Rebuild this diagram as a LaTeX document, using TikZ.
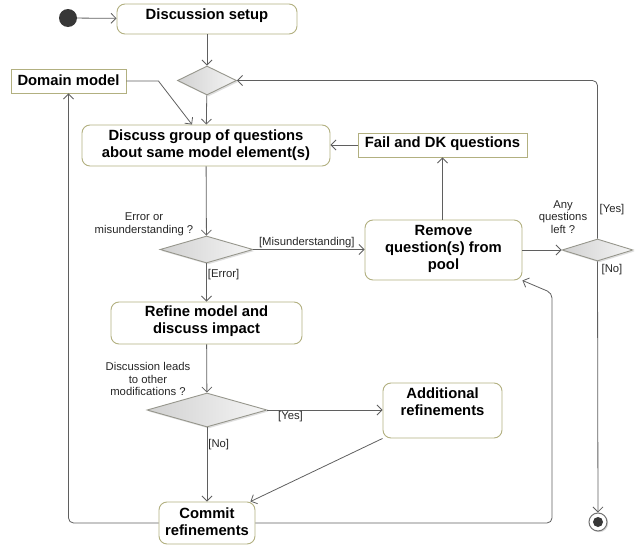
\documentclass[tikz,border=0pt]{standalone}
\usepackage{fontspec}
\setmainfont{Liberation Sans}
\usetikzlibrary{arrows.meta,shapes.geometric,shadows,calc}
\definecolor{boxline}{RGB}{178,176,128}
\definecolor{flowline}{RGB}{95,95,95}
\definecolor{decline}{RGB}{150,150,140}
\definecolor{dotfill}{RGB}{55,55,55}
\begin{document}
\begin{tikzpicture}[x=1pt,y=-1pt,
  actbox/.style={draw=boxline, line width=0.9pt, rounded corners=8pt, fill=white, inner sep=0pt},
  objbox/.style={draw=boxline, line width=0.9pt, fill=white, inner sep=0pt},
  boxtext/.style={font=\bfseries\fontsize{14.8}{17}\selectfont, align=center, inner sep=0pt},
  guard/.style={font=\fontsize{11.3}{12.8}\selectfont, align=center, text=black!85, inner sep=1pt},
  decision/.style={diamond, draw=decline, line width=0.9pt, inner sep=0pt,
    shading=axis, left color=black!18, right color=black!4,
    drop shadow={shadow xshift=1.5pt, shadow yshift=-1.5pt, opacity=0.25}},
  flow/.style={draw=flowline, line width=0.8pt, -{Straight Barb[length=5pt,width=10pt]}},
  plain/.style={draw=flowline, line width=0.8pt}
]
\useasboundingbox (0,0) rectangle (641,546);

% initial and final nodes
\node[circle, fill=dotfill, minimum size=18pt, inner sep=0pt] (start) at (68,18) {};
\node[circle, draw=black!55, line width=1pt, fill=white, minimum size=18pt, inner sep=0pt,
  drop shadow={shadow xshift=1.2pt, shadow yshift=-1.2pt, opacity=0.3}] (final) at (598,522) {};
\node[circle, fill=dotfill, minimum size=10pt, inner sep=0pt] at (final) {};

% actions and objects
\node[actbox, minimum width=180pt, minimum height=30pt] (setup) at (207,19) {};
\node[boxtext] at (207,16) {Discussion setup};

\node[objbox, minimum width=115pt, minimum height=24pt] (dm) at (68.5,81) {};
\node[boxtext] at (68.5,80) {Domain model};

\node[actbox, minimum width=248pt, minimum height=41pt] (discuss) at (206,145.5) {};
\node[boxtext] at (206,145) {Discuss group of questions\\about same model element(s)};

\node[objbox, minimum width=169pt, minimum height=24pt] (fail) at (442.5,145) {};
\node[boxtext] at (442.5,144) {Fail and DK questions};

\node[actbox, minimum width=157pt, minimum height=60pt] (remove) at (443.5,250) {};
\node[boxtext] at (443.5,249) {Remove\\question(s) from\\pool};

\node[actbox, minimum width=191pt, minimum height=42pt] (refine) at (206.5,323) {};
\node[boxtext] at (206.5,321) {Refine model and\\discuss impact};

\node[actbox, minimum width=119pt, minimum height=55pt] (add) at (442.5,410.5) {};
\node[boxtext] at (442.5,402) {Additional\\refinements};

\node[actbox, minimum width=96pt, minimum height=42pt] (commit) at (207,523) {};
\node[boxtext] at (207,522) {Commit\\refinements};

% decisions
\node[decision, minimum width=59pt, minimum height=29pt] (d1) at (207,80.5) {};
\node[decision, minimum width=93pt, minimum height=27pt] (d2) at (206.5,249.5) {};
\node[decision, minimum width=120pt, minimum height=34pt] (d3) at (207,410) {};
\node[decision, minimum width=71pt, minimum height=22pt] (d4) at (597.5,250) {};

% decision questions
\node[guard] at (144,224) {Error or\\misunderstanding ?};
\node[guard] at (148,379) {Discussion leads\\to other\\modifications ?};
\node[guard] at (563,217) {Any\\questions\\left ?};

% control flow
\draw[flow] (start) -- (setup);
\draw[flow] (setup) -- (d1);
\draw[flow] (d1) -- (discuss);
\draw[flow] (dm.east) -- ($(dm.east)+(32,0)$) -- ([xshift=-14pt]discuss.north);
\draw[flow] (fail.west) -- (fail.west -| discuss.east);
\draw[flow] (remove.north -| fail.south) -- (fail.south);
\draw[flow] (discuss) -- (d2);
\draw[flow] (d2.east) -- node[guard, above, pos=0.48] {[Misunderstanding]} (d2.east -| remove.west);
\draw[flow] (d2) -- node[guard, right, pos=0.28] {[Error]} (refine);
\draw[flow] (refine) -- (d3);
\draw[flow] (d3.east) -- node[guard, below, pos=0.2] {[Yes]} (d3.east -| add.west);
\draw[flow] (d3) -- node[guard, right, pos=0.23] {[No]} (commit);
\draw[flow] (add.south west) -- ([xshift=-5pt]commit.north east);
\draw[flow] (remove.east) -- (remove.east -| d4.west);
\draw[flow, rounded corners=5pt] (commit.west) -| (dm.south);
\draw[flow, rounded corners=5pt] (commit.east) -- (commit.east -| 552,0) -- (552,293) -- (remove.south east);
\draw[flow, rounded corners=5pt] (d4.north) -- (d4.north |- d1.east) -- (d1.east);
\draw[flow] (d4.south) -- (final);
\node[guard] at (612,210) {[Yes]};
\node[guard] at (612,270) {[No]};
\end{tikzpicture}
\end{document}
